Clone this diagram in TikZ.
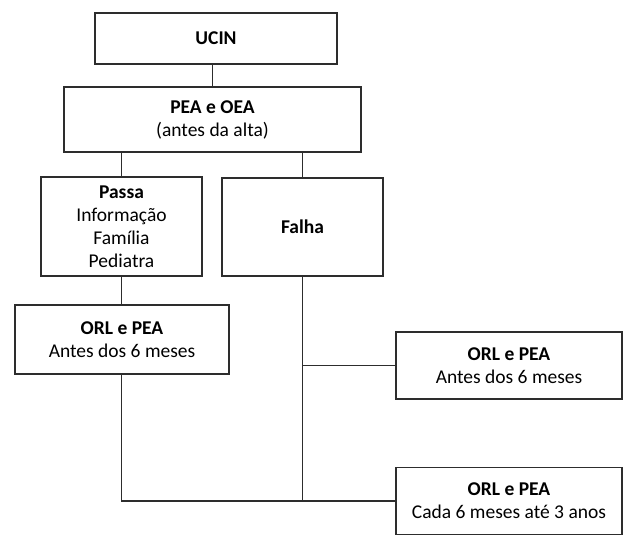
\documentclass[tikz,border=0pt]{standalone}
\usepackage{fontspec}
\setmainfont{Carlito}
\usepackage{tikz}
\usetikzlibrary{positioning}
\usepackage{xcolor}
\definecolor{framecolor}{RGB}{45,45,45}

\begin{document}
\begin{tikzpicture}[
  x=1pt,y=-1pt,
  every node/.style={rectangle,draw=framecolor,line width=1.7pt,inner sep=0pt,
    align=center,font=\fontsize{19.5}{23}\selectfont},
  link/.style={draw=framecolor,line width=1.3pt}
]
  \useasboundingbox (0,0) rectangle (630,536);
  % screening flow
  \node[minimum width=242,minimum height=51] (ucin)   at (216,38.5)  {\textbf{UCIN}};
  \node[minimum width=297,minimum height=65] (peaoea) at (212.5,119.5) {\textbf{PEA e OEA}\\(antes da alta)};
  \node[minimum width=161,minimum height=99] (passa)  at (121.5,226.5) {\textbf{Passa}\\Informação\\Família\\Pediatra};
  \node[minimum width=161,minimum height=98] (falha)  at (302.5,227)  {\textbf{Falha}};
  \node[minimum width=214,minimum height=69] (orlA)   at (122,339.5)  {\textbf{ORL e PEA}\\Antes dos 6 meses};
  \node[minimum width=226,minimum height=67] (orlB)   at (509,365.5)  {\textbf{ORL e PEA}\\Antes dos 6 meses};
  \node[minimum width=226,minimum height=67] (orlC)   at (509,501)    {\textbf{ORL e PEA}\\Cada 6 meses até 3 anos};
  \draw[link] (peaoea.north |- ucin.south) -- (peaoea.north);
  \draw[link] (passa.north |- peaoea.south) -- (passa.north);
  \draw[link] (falha.north |- peaoea.south) -- (falha.north);
  \draw[link] (passa.south) -- (passa.south |- orlA.north);
  \draw[link] (falha.south) -- (falha.south |- orlC.west);
  \draw[link] (falha.south |- orlB.west) -- (orlB.west);
  \draw[link] (passa.south |- orlA.south) |- (orlC.west);
\end{tikzpicture}
\end{document}
